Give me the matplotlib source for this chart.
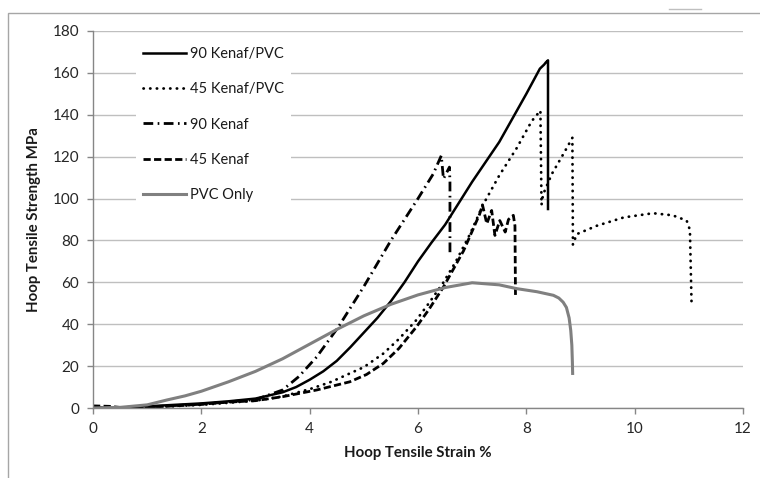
import matplotlib
matplotlib.use("Agg")
import matplotlib.pyplot as plt
from matplotlib.lines import Line2D
from matplotlib.patches import Rectangle

# strain (%) / stress (MPa)
kp90_x = [0, 0.5, 1.0, 1.5, 2.0, 2.5, 3.0, 3.5, 3.75, 4.0, 4.25, 4.5, 4.75, 5.0, 5.25, 5.5, 5.75, 6.0, 6.25, 6.5,
          7.0, 7.5, 8.0, 8.25, 8.33, 8.36, 8.40, 8.40]
kp90_y = [0, 0.2, 0.8, 1.5, 2.2, 3.2, 4.5, 7.5, 10, 13.5, 17.5, 22.5, 29, 36, 43, 51, 60, 70, 79, 87.5,
          108, 127, 150, 162, 164, 165, 166, 95]

kp45_x = [0, 1.0, 2.0, 3.0, 3.5, 4.0, 4.4, 4.74, 5.0, 5.36, 5.65, 5.97, 6.2, 6.47, 6.7, 6.96, 7.2, 7.5, 7.82, 8.1,
          8.26, 8.28, 8.31, 8.47, 8.7, 8.85, 8.86, 8.93, 9.3, 9.8, 10.34, 10.7, 10.96, 11.02, 11.05]
kp45_y = [0, 0.3, 1.5, 3.5, 5.5, 9, 12.5, 16.5, 19.5, 26, 33, 42, 50, 60, 70, 83, 97, 111, 124, 137,
          142, 97, 102, 111.7, 122, 129, 78, 83, 87, 91, 93, 92, 89.5, 85, 50]

k90_x = [0, 1.0, 2.0, 3.0, 3.5, 3.8, 4.13, 4.53, 5.0, 5.5, 6.0, 6.28, 6.43, 6.47, 6.58, 6.59, 6.59]
k90_y = [0, 0.5, 1.8, 4.0, 8.6, 15, 24.4, 38.7, 58, 80, 100, 111.7, 120.5, 109.4, 115, 108, 74]

k45_x = [0, 0.3, 0.6, 1.0, 1.5, 2.0, 2.5, 3.0, 3.5, 4.13, 4.74, 5.05, 5.36, 5.65, 5.97, 6.2, 6.47, 6.84, 7.14, 7.19,
         7.27, 7.36, 7.42, 7.51, 7.61, 7.67, 7.76, 7.79, 7.80]
k45_y = [1.0, 0.8, 0, 0.5, 1.0, 1.8, 2.8, 3.5, 5.4, 8.6, 12.5, 16, 21.3, 28.5, 38.7, 47, 57.8, 75, 92.7, 97,
         88, 94.3, 82.4, 89.5, 84, 90, 92, 87, 53]

pvc_x = [0, 0.5, 1.0, 1.36, 1.7, 2.0, 2.5, 3.0, 3.5, 4.0, 4.5, 5.0, 5.5, 6.0, 6.5, 7.0, 7.5, 7.82, 8.2, 8.5, 8.6,
         8.68, 8.74, 8.79, 8.82, 8.84, 8.85, 8.855]
pvc_y = [0, 0.3, 1.5, 3.8, 5.8, 8.0, 12.5, 17.5, 23.5, 30.5, 37.5, 44, 49.5, 54, 57.5, 59.8, 58.8, 57, 55.5, 53.8, 52.5,
         50.5, 48, 43, 37, 30, 22, 16.5]

plt.rcParams['font.family'] = ['Lato', 'DejaVu Sans']

fig = plt.figure(figsize=(7.6, 4.78), dpi=100)
ax = fig.add_axes([93/760, 70/478, 650/760, 377/478])

ax.plot(kp90_x, kp90_y, color='black', lw=1.8, label='90 Kenaf/PVC')
ax.plot(kp45_x, kp45_y, color='black', lw=2.0, ls=(0, (0.1, 2.3)), dash_capstyle='round', label='45 Kenaf/PVC')
ax.plot(k90_x, k90_y, color='black', lw=2.0, ls=(0, (3.5, 1.6, 0.6, 1.6)), label='90 Kenaf')
ax.plot(k45_x, k45_y, color='black', lw=2.0, ls=(0, (2.6, 1.2)), label='45 Kenaf')
ax.plot(pvc_x, pvc_y, color='#808080', lw=2.2, label='PVC Only')

ax.set_xlim(0, 12)
ax.set_ylim(0, 180)
ax.set_xticks(range(0, 13, 2))
ax.set_yticks(range(0, 181, 20))
ax.grid(axis='y', color='#BFBFBF', lw=1.0)
ax.set_axisbelow(True)
for s in ['top', 'right']:
    ax.spines[s].set_visible(False)
for s in ['left', 'bottom']:
    ax.spines[s].set_color('#868686')
    ax.spines[s].set_linewidth(1.0)
ax.tick_params(axis='both', colors='#868686', labelcolor='#262626', labelsize=11, length=4, width=1.0, pad=6)

ax.set_xlabel('Hoop Tensile Strain %', fontweight='bold', fontsize=10.8, labelpad=7, color='#1a1a1a')
ax.set_ylabel('Hoop Tensile Strength MPa', fontweight='bold', fontsize=10.8, labelpad=8, color='#1a1a1a')

leg = ax.legend(loc='upper left', bbox_to_anchor=(136/760, 1 - 40/478), bbox_transform=fig.transFigure,
                fontsize=10.5, frameon=True, fancybox=False, edgecolor='none', facecolor='white', framealpha=1,
                handlelength=2.9, handletextpad=0.3, labelspacing=1.45, borderpad=0.5, borderaxespad=0)
for t in leg.get_texts():
    t.set_color('#1a1a1a')

# chart-area border (cropped in the original)
fig.add_artist(Rectangle((8/760, -0.1), 1.2, 1 - 13/478 + 0.1, transform=fig.transFigure,
                         fill=False, edgecolor='#A6A6A6', lw=1.0))
fig.add_artist(Line2D([669/760, 701/760], [1 - 9/478, 1 - 9/478], transform=fig.transFigure,
                      color='#BFBFBF', lw=1.0))

fig.savefig('out.png', dpi=100)
